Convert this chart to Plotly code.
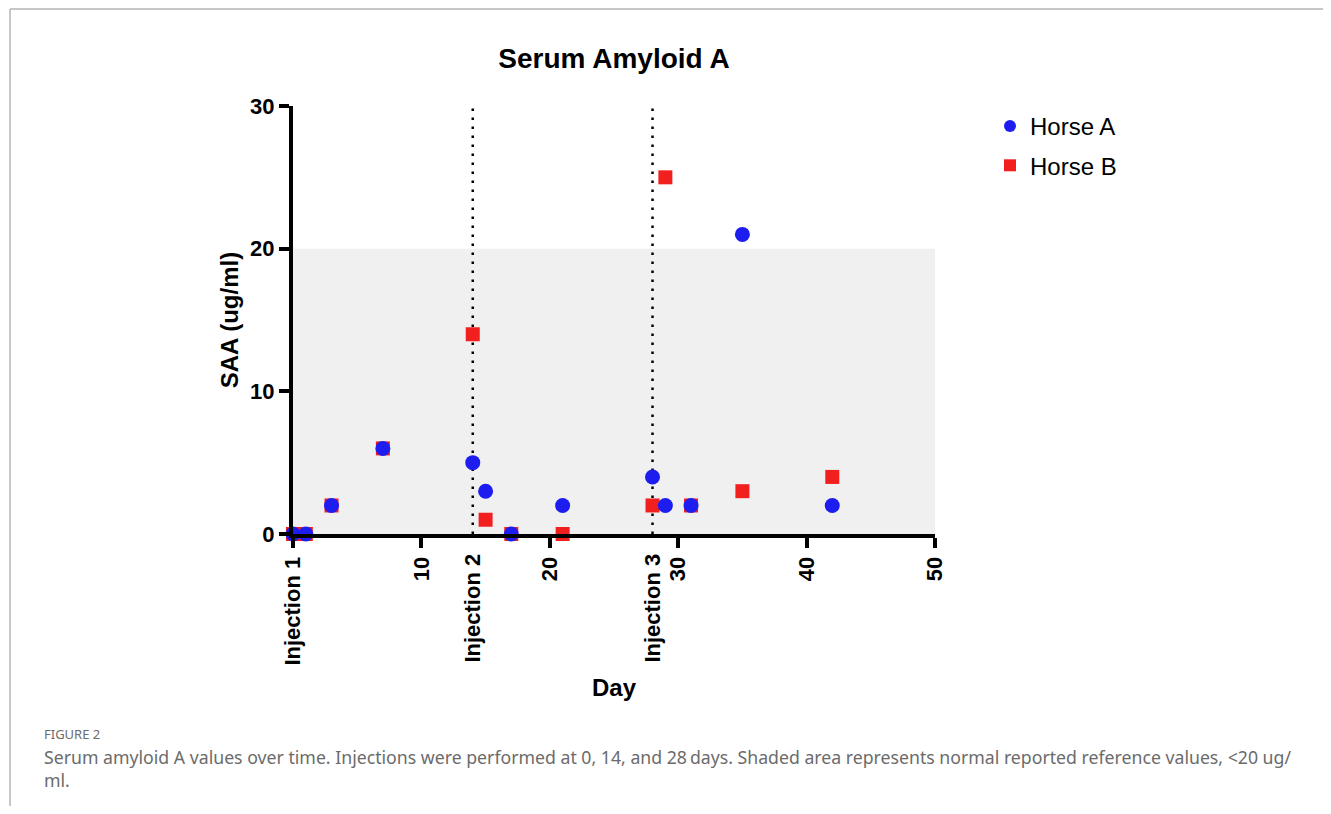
import plotly.graph_objects as go

# Data
days_a = [0, 1, 3, 7, 14, 15, 17, 21, 28, 29, 31, 35, 42]
saa_a = [0, 0, 2, 6, 5, 3, 0, 2, 4, 2, 2, 21, 2]
days_b = [0, 1, 3, 7, 14, 15, 17, 21, 28, 29, 31, 35, 42]
saa_b = [0, 0, 2, 6, 14, 1, 0, 0, 2, 25, 2, 3, 4]
injection_days = [0, 14, 28]
injection_labels = ["Injection 1", "Injection 2", "Injection 3"]
x_tickvals = [0, 10, 20, 30, 40, 50]
x_ticktext = ["Injection 1", "10", "20", "30", "40", "50"]
y_tickvals = [0, 10, 20, 30]
reference_upper = 20

# page body has an 8px margin; work in figure coordinates
OFF = 8
W, H = 1331 - 2 * OFF, 814 - 2 * OFF
L, R, T, B = 293 - OFF, 935 - OFF, 106 - OFF, 534 - OFF
pw, ph = R - L, B - T

def px(xp):
    return (xp - OFF - L) / pw

def py(yp):
    return (B - (yp - OFF)) / ph

FONT = "Liberation Sans, Arial, sans-serif"

fig = go.Figure()
fig.add_trace(go.Scatter(
    x=days_b, y=saa_b, mode="markers", name="Horse B", legendgroup="b",
    marker=dict(symbol="square", size=14, color="#f21f1f"),
    cliponaxis=False, legendrank=2,
))
fig.add_trace(go.Scatter(
    x=days_a, y=saa_a, mode="markers", name="Horse A", legendgroup="a",
    marker=dict(symbol="circle", size=15, color="#1d1df0"),
    cliponaxis=False, legendrank=1,
))
# invisible trace on overlaid axis for Injection 2/3 labels
fig.add_trace(go.Scatter(x=injection_days[1:], y=[None, None], xaxis="x2",
                         showlegend=False, hoverinfo="skip"))

shapes = [
    dict(type="rect", xref="x", yref="y", x0=0, x1=50, y0=0, y1=reference_upper,
         fillcolor="#f0f0f0", line=dict(width=0), layer="below"),
]
for d in injection_days[1:]:
    shapes.append(dict(type="line", xref="x", yref="y", x0=d, x1=d, y0=0, y1=30,
                       line=dict(color="black", width=2.5, dash="2.5px,6.5px"), layer="below"))
# page border
shapes.append(dict(type="line", xref="paper", yref="paper",
                   x0=px(10), x1=px(1340), y0=py(9), y1=py(9),
                   line=dict(color="#b4b4b4", width=1.5)))
shapes.append(dict(type="line", xref="paper", yref="paper",
                   x0=px(10), x1=px(10), y0=py(9), y1=py(830),
                   line=dict(color="#b4b4b4", width=1.5)))

axis_font = dict(family=FONT, size=22, color="black", weight="bold")
title_font = dict(family=FONT, size=24, color="black", weight="bold")

fig.update_layout(
    width=W, height=H,
    margin=dict(l=L, r=W - R, t=T, b=H - B),
    plot_bgcolor="white", paper_bgcolor="white",
    shapes=shapes,
    title=dict(text="Serum Amyloid A", x=(614 - OFF) / W, xanchor="center", y=1 - (58 - OFF) / H,
               yanchor="middle", font=dict(family=FONT, size=28, color="black", weight="bold")),
    xaxis=dict(range=[0, 50], tickvals=x_tickvals, ticktext=x_ticktext, tickangle=-90,
               showline=True, linecolor="black", linewidth=4, ticks="outside",
               ticklen=10, tickwidth=4, tickcolor="black", showgrid=False, zeroline=False,
               tickfont=axis_font,
               title=dict(text="Day", font=title_font, standoff=16)),
    xaxis2=dict(range=[0, 50], overlaying="x", side="bottom", tickvals=injection_days[1:],
                ticktext=injection_labels[1:], tickangle=-90, ticks="outside", ticklen=10,
                tickcolor="rgba(0,0,0,0)", showline=False, showgrid=False, zeroline=False,
                tickfont=axis_font),
    yaxis=dict(range=[0, 30], tickvals=y_tickvals, showline=True, linecolor="black",
               linewidth=4, ticks="outside", ticklen=10, tickwidth=4, tickcolor="black",
               showgrid=False, zeroline=False, tickfont=axis_font,
               title=dict(text="SAA (ug/ml)", font=title_font, standoff=6)),
    legend=dict(x=px(990), y=py(104), xanchor="left", yanchor="top",
                font=dict(family=FONT, size=24, color="black"), bgcolor="rgba(0,0,0,0)",
                itemsizing="constant", tracegroupgap=5, traceorder="grouped"),
    showlegend=True,
)

fig.add_annotation(text="FIGURE 2", xref="paper", yref="paper", x=px(42), y=py(734),
                   xanchor="left", yanchor="middle", showarrow=False,
                   font=dict(family="Noto Sans", size=13, color="#6b6b6b"))
fig.add_annotation(
    text="Serum amyloid A values over time. Injections were performed at 0, 14, and 28\u2009days. "
         "Shaded area represents normal reported reference values, <20 ug/<br>ml.",
    xref="paper", yref="paper", x=px(42), y=py(743), xanchor="left", yanchor="top",
    align="left", showarrow=False,
    font=dict(family="Noto Sans", size=17.7, color="#6b6b6b"))

fig.write_html("out.html")
